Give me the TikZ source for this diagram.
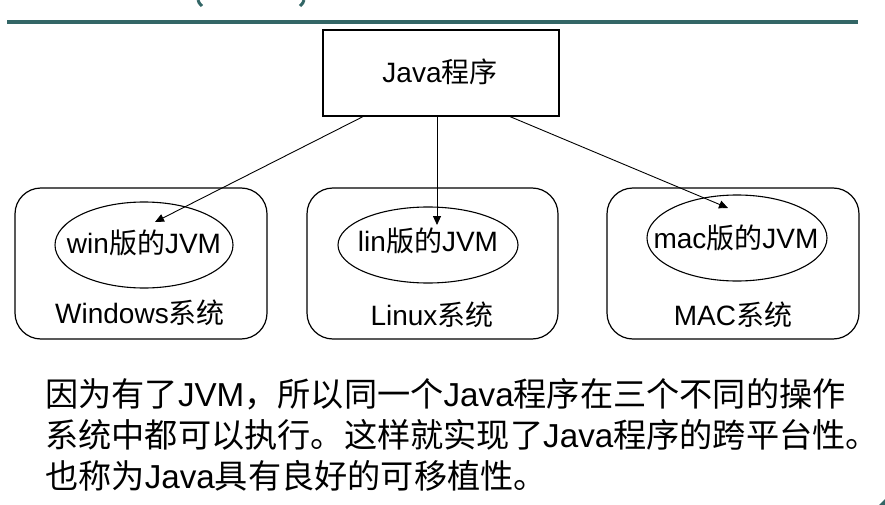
\documentclass[tikz,border=0pt]{standalone}
\usepackage{fontspec}
\setmainfont{Liberation Sans}
\newfontfamily\cjk{Noto Sans CJK SC}
\usetikzlibrary{shapes.geometric,arrows.meta}
\newcommand\zh[1]{{\cjk #1}}
\definecolor{teal1}{RGB}{51,102,102}
\begin{document}
\begin{tikzpicture}[x=1pt,y=-1pt,
  box/.style={draw, line width=1.2pt, inner sep=0, minimum width=236pt, minimum height=86pt},
  sysbox/.style={draw, line width=1.2pt, rounded corners=26pt, inner sep=0, minimum height=151pt},
  jvm/.style={draw, ellipse, line width=1.1pt, inner sep=0},
  lbl/.style={anchor=base, inner sep=0, font=\fontsize{28}{34}\selectfont},
  body/.style={anchor=base west, inner sep=0, font=\fontsize{33.2}{40}\selectfont},
  arr/.style={line width=0.9pt, -{Triangle[length=9pt,width=8pt]}}]
\useasboundingbox (0,0) rectangle (885,505);
% header decoration
\fill[teal1] (7,20) rectangle (858,24);
\draw[teal1, line width=3pt] (198,0) .. controls (199,3) .. (202,6);
\draw[teal1, line width=3pt] (304,0) .. controls (303,3) .. (300,6);
\fill[teal1] (879,505) -- (885,499) -- (885,505) -- cycle;
% Java program box
\node[box] (java) at (441,73) {};
\node[lbl] (javat) at (440,83) {Java\zh{程序}};
% system boxes
\node[sysbox, minimum width=252pt] (win) at (141,263.5) {};
\node[sysbox, minimum width=251pt] (lin) at (432.5,263.5) {};
\node[sysbox, minimum width=252pt] (mac) at (733,263.5) {};
% JVM ellipses
\node[jvm, minimum width=178pt, minimum height=86pt] (wjvm) at (144,245) {};
\node[jvm, minimum width=180pt, minimum height=76pt] (ljvm) at (428,245) {};
\node[jvm, minimum width=180pt, minimum height=86pt] (mjvm) at (737,238) {};
\node[lbl] (wjvmt) at (144,253) {win\zh{版的}JVM};
\node[lbl] (ljvmt) at (428,251) {lin\zh{版的}JVM};
\node[lbl] (mjvmt) at (736,248) {mac\zh{版的}JVM};
% system labels
\node[lbl] (wint) at (140,323) {Windows\zh{系统}};
\node[lbl] (lint) at (432,325) {Linux\zh{系统}};
\node[lbl] (mact) at (733,325) {MAC\zh{系统}};
% arrows
\coordinate (tw) at (155,222);
\coordinate (tl) at (437,225);
\coordinate (tm) at (728,208);
\draw[arr] ([xshift=-78pt]java.south) -- (tw);
\draw[arr] ([xshift=-4pt]java.south) -- (tl);
\draw[arr] ([xshift=69pt]java.south) -- (tm);
% explanatory text
\node[body] (l1) at (45,406) {\zh{因为有了}JVM\zh{，所以同一个}Java\zh{程序在三个不同的操作}};
\node[body] (l2) at (45,447) {\zh{系统中都可以执行。这样就实现了}Java\zh{程序的跨平台性}\makebox[0.45em][l]{\zh{。}}};
\node[body] (l3) at (45,488) {\zh{也称为}Java\zh{具有良好的可移植性。}};
\end{tikzpicture}
\end{document}
